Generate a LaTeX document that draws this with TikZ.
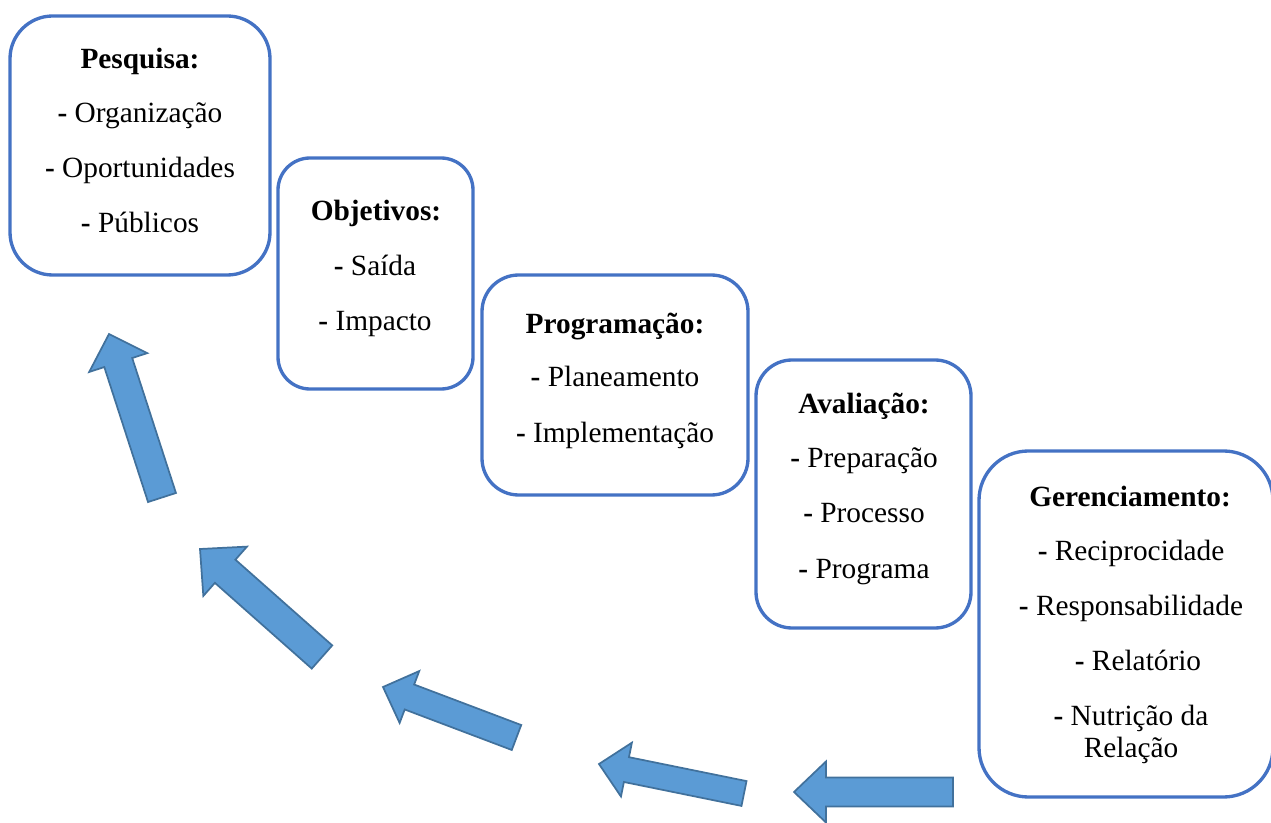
\documentclass[tikz,border=0pt]{standalone}
\usepackage{fontspec}
\setmainfont{Liberation Serif}
\usetikzlibrary{calc}
\definecolor{boxblue}{HTML}{4472C4}
\definecolor{arrfill}{HTML}{5B9BD5}
\definecolor{arrline}{HTML}{41719C}
\tikzset{
  stagebox/.style={draw=boxblue, line width=2.5pt, rounded corners=#1, fill=white},
  txt/.style={anchor=base, font=\fontsize{22}{25}\selectfont, inner sep=0pt},
  blockarrow/.style={fill=arrfill, draw=arrline, line width=1.3pt, line join=miter}
}
% #1 base, #2 tip, #3 shaft half width, #4 head half width, #5 head length
\newcommand{\blockarr}[5]{%
  \coordinate (B) at (#1);
  \coordinate (T) at (#2);
  \coordinate (H) at ($(T)!#5!(B)$);
  \draw[blockarrow] ($(B)!#3!90:(T)$) -- ($(H)!#3!-90:(B)$) -- ($(H)!#4!-90:(B)$)
    -- (T) -- ($(H)!#4!90:(B)$) -- ($(H)!#3!90:(B)$) -- ($(B)!#3!-90:(T)$) -- cycle;
}
\begin{document}
\begin{tikzpicture}[x=0.75pt,y=-0.75pt]
\useasboundingbox (0,0) rectangle (1271,823);
\clip (0,0) rectangle (1271,823);

% boxes
\draw[stagebox=32pt] (10,16) rectangle (270,275);
\draw[stagebox=24pt] (278,158) rectangle (473,389);
\draw[stagebox=27.5pt] (482,275) rectangle (748,495);
\draw[stagebox=27pt] (756,360) rectangle (971,628);
\draw[stagebox=37pt] (979,451) rectangle (1273,797);

% box 1
\node[txt] (p0) at (140,69) {\textbf{Pesquisa:}};
\node[txt] (p1) at (140,123) {\textbf{-} Organização};
\node[txt] (p2) at (140,178) {\textbf{-} Oportunidades};
\node[txt] (p3) at (140,233) {\textbf{-} Públicos};
% box 2
\node[txt] (o0) at (376,221) {\textbf{Objetivos:}};
\node[txt] (o1) at (375,276) {\textbf{-} Saída};
\node[txt] (o2) at (375,331) {\textbf{-} Impacto};
% box 3
\node[txt] (g0) at (615,334) {\textbf{Programação:}};
\node[txt] (g1) at (615,387) {\textbf{-} Planeamento};
\node[txt] (g2) at (615,442) {\textbf{-} Implementação};
% box 4
\node[txt] (a0) at (864,414) {\textbf{Avaliação:}};
\node[txt] (a1) at (864,467) {\textbf{-} Preparação};
\node[txt] (a2) at (864,522) {\textbf{-} Processo};
\node[txt] (a3) at (864,578) {\textbf{-} Programa};
% box 5
\node[txt] (m0) at (1130,506) {\textbf{Gerenciamento:}};
\node[txt] (m1) at (1131,560) {\textbf{-} Reciprocidade};
\node[txt] (m2) at (1131,615) {\textbf{-} Responsabilidade};
\node[txt] (m3) at (1138,670) {\textbf{-} Relatório};
\node[txt] (m4) at (1131,725) {\textbf{-} Nutrição da};
\node[txt] (m5) at (1131,757) {Relação};

% arrows
\blockarr{162,497.5}{109,334}{11pt}{22.9pt}{22.5pt}
\blockarr{322,657}{200,549}{11.6pt}{24.7pt}{25.2pt}
\blockarr{516.5,737.5}{383,687}{10pt}{20.8pt}{21.2pt}
\blockarr{744,793.5}{599,764}{9.5pt}{20.6pt}{21pt}
\blockarr{953,792}{794,792}{10.9pt}{22.9pt}{24pt}
\end{tikzpicture}
\end{document}
